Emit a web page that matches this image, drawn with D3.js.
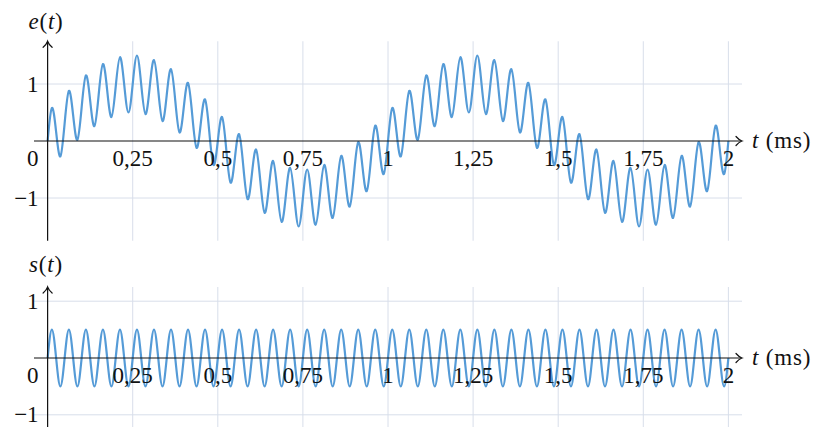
<!DOCTYPE html>
<html>
<head>
<meta charset="utf-8">
<script src="https://cdn.jsdelivr.net/npm/d3@7/dist/d3.min.js"></script>
<style>
  html, body { margin: 0; padding: 0; background: #fff; }
  svg { display: block; }
  text { font-family: "Liberation Serif", "Times New Roman", serif; font-size: 23px; fill: #111; }
  text.title { letter-spacing: 0.8px; }
</style>
</head>
<body>
<svg id="chart" width="813" height="427"></svg>
<script>
// ---- data ----
const tStart = 0;          // ms
const tStep = 0.0125;      // ms between listed samples
const eValues = [
  0, 0.58, 0.16, -0.27, 0.31, 0.88, 0.45, 0.02, 0.59, 1.15, 0.71, 0.26, 0.81, 1.35, 0.89, 0.42, 0.95, 1.47, 0.99, 0.50,
  1, 1.50, 0.99, 0.47, 0.95, 1.42, 0.89, 0.35, 0.81, 1.26, 0.71, 0.15, 0.59, 1.02, 0.45, -0.12, 0.31, 0.73, 0.16, -0.42,
  0, 0.42, -0.16, -0.73, -0.31, 0.12, -0.45, -1.02, -0.59, -0.15, -0.71, -1.26, -0.81, -0.35, -0.89, -1.42, -0.95, -0.47, -0.99, -1.50,
  -1, -0.50, -0.99, -1.47, -0.95, -0.42, -0.89, -1.35, -0.81, -0.26, -0.71, -1.15, -0.59, -0.02, -0.45, -0.88, -0.31, 0.27, -0.16, -0.58,
  0, 0.58, 0.16, -0.27, 0.31, 0.88, 0.45, 0.02, 0.59, 1.15, 0.71, 0.26, 0.81, 1.35, 0.89, 0.42, 0.95, 1.47, 0.99, 0.50,
  1, 1.50, 0.99, 0.47, 0.95, 1.42, 0.89, 0.35, 0.81, 1.26, 0.71, 0.15, 0.59, 1.02, 0.45, -0.12, 0.31, 0.73, 0.16, -0.42,
  0, 0.42, -0.16, -0.73, -0.31, 0.12, -0.45, -1.02, -0.59, -0.15, -0.71, -1.26, -0.81, -0.35, -0.89, -1.42, -0.95, -0.47, -0.99, -1.50,
  -1, -0.50, -0.99, -1.47, -0.95, -0.42, -0.89, -1.35, -0.81, -0.26, -0.71, -1.15, -0.59, -0.02, -0.45, -0.88, -0.31, 0.27, -0.16, -0.58,
  0
];
const sValues = [
  0, 0.5, 0, -0.5, 0, 0.5, 0, -0.5, 0, 0.5, 0, -0.5, 0, 0.5, 0, -0.5, 0, 0.5, 0, -0.5,
  0, 0.5, 0, -0.5, 0, 0.5, 0, -0.5, 0, 0.5, 0, -0.5, 0, 0.5, 0, -0.5, 0, 0.5, 0, -0.5,
  0, 0.5, 0, -0.5, 0, 0.5, 0, -0.5, 0, 0.5, 0, -0.5, 0, 0.5, 0, -0.5, 0, 0.5, 0, -0.5,
  0, 0.5, 0, -0.5, 0, 0.5, 0, -0.5, 0, 0.5, 0, -0.5, 0, 0.5, 0, -0.5, 0, 0.5, 0, -0.5,
  0, 0.5, 0, -0.5, 0, 0.5, 0, -0.5, 0, 0.5, 0, -0.5, 0, 0.5, 0, -0.5, 0, 0.5, 0, -0.5,
  0, 0.5, 0, -0.5, 0, 0.5, 0, -0.5, 0, 0.5, 0, -0.5, 0, 0.5, 0, -0.5, 0, 0.5, 0, -0.5,
  0, 0.5, 0, -0.5, 0, 0.5, 0, -0.5, 0, 0.5, 0, -0.5, 0, 0.5, 0, -0.5, 0, 0.5, 0, -0.5,
  0, 0.5, 0, -0.5, 0, 0.5, 0, -0.5, 0, 0.5, 0, -0.5, 0, 0.5, 0, -0.5, 0, 0.5, 0, -0.5,
  0
];
const xTicks = [0.25, 0.5, 0.75, 1, 1.25, 1.5, 1.75, 2];
const xTickLabels = ["0,25", "0,5", "0,75", "1", "1,25", "1,5", "1,75", "2"];
const yTicks = [-1, 1];
const yTickLabels = ["−1", "1"];

// ---- layout ----
const svg = d3.select("#chart");
const lineColor = "#559bd7";
const gridColor = "#d8deea";

const x = d3.scaleLinear().domain([-0.04, 2.04]).range([34, 742]);

const panels = [
  { name: "e", values: eValues, y: d3.scaleLinear().domain([-1.75, 1.75]).range([240.75, 41.25]), ylab: 29 },
  { name: "s", values: sValues, y: d3.scaleLinear().domain([-1.25, 1.25]).range([429, 287]), ylab: 272 }
];

panels.forEach(p => {
  const g = svg.append("g");
  const y = p.y;
  const [yMin, yMax] = y.domain();
  // grid
  g.append("g").selectAll("line.v").data(xTicks).join("line")
    .attr("x1", d => x(d)).attr("x2", d => x(d))
    .attr("y1", y(yMin)).attr("y2", y(yMax))
    .attr("stroke", gridColor).attr("stroke-width", 1);
  g.append("g").selectAll("line.h").data(yTicks).join("line")
    .attr("x1", x.range()[0]).attr("x2", x.range()[1])
    .attr("y1", d => y(d)).attr("y2", d => y(d))
    .attr("stroke", gridColor).attr("stroke-width", 1);

  // curve
  const line = d3.line()
    .x((d, i) => x(tStart + i * tStep))
    .y(d => y(d))
    .curve(d3.curveNatural);
  g.append("path").datum(p.values)
    .attr("d", line)
    .attr("fill", "none")
    .attr("stroke", lineColor)
    .attr("stroke-width", 2.2)
    .attr("stroke-linejoin", "round");

  // axes
  const x0 = x(0), y0 = y(0);
  const xEnd = x.range()[1], yTop = y(yMax);
  g.append("line").attr("x1", x.range()[0]).attr("x2", xEnd - 1).attr("y1", y0).attr("y2", y0)
    .attr("stroke", "#111").attr("stroke-width", 1.2);
  g.append("line").attr("x1", x0).attr("x2", x0).attr("y1", y(yMin)).attr("y2", yTop + 1)
    .attr("stroke", "#111").attr("stroke-width", 1.2);
  // arrowheads
  g.append("path")
    .attr("d", `M${xEnd - 6},${y0 - 4.5} Q${xEnd - 3},${y0 - 1} ${xEnd},${y0} Q${xEnd - 3},${y0 + 1} ${xEnd - 6},${y0 + 4.5}`)
    .attr("fill", "none").attr("stroke", "#111").attr("stroke-width", 1.2).attr("stroke-linecap", "round");
  g.append("path")
    .attr("d", `M${x0 - 4.5},${yTop + 6} Q${x0 - 1},${yTop + 3} ${x0},${yTop} Q${x0 + 1},${yTop + 3} ${x0 + 4.5},${yTop + 6}`)
    .attr("fill", "none").attr("stroke", "#111").attr("stroke-width", 1.2).attr("stroke-linecap", "round");

  // tick labels
  g.append("g").selectAll("text").data(xTicks).join("text")
    .attr("x", d => x(d)).attr("y", y0 + 24.5)
    .attr("text-anchor", "middle")
    .text((d, i) => xTickLabels[i]);
  g.append("g").selectAll("text").data(yTicks).join("text")
    .attr("x", x0 - 9).attr("y", d => y(d) + 7.5)
    .attr("text-anchor", "end")
    .text((d, i) => yTickLabels[i]);
  g.append("text").attr("x", x0 - 9).attr("y", y0 + 24.5).attr("text-anchor", "end").text("0");

  // axis titles
  const yt = g.append("text").attr("class", "title").attr("x", 46).attr("y", p.ylab).attr("text-anchor", "middle");
  yt.append("tspan").attr("font-style", "italic").text(p.name);
  yt.append("tspan").text("(");
  yt.append("tspan").attr("font-style", "italic").text("t");
  yt.append("tspan").text(")");

  const xt = g.append("text").attr("class", "title").attr("x", 752).attr("y", y0 + 7);
  xt.append("tspan").attr("font-style", "italic").text("t");
  xt.append("tspan").text(" (ms)");
});
</script>
</body>
</html>
